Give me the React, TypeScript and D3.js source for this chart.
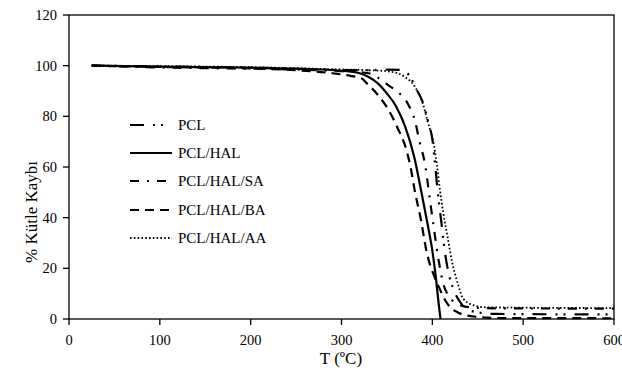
import React from "react";
import * as d3 from "d3";

// temperatures (°C) and mass values (%)
const pclT = [25, 100, 200, 250, 300, 330, 350, 365, 375, 382, 389, 396, 400, 403, 406, 410, 414, 418, 423, 430, 438, 450, 470, 600];
const pclV = [100, 99.7, 99.2, 98.8, 98.3, 98.2, 98.4, 98.3, 96, 91, 86, 77, 71, 61, 50, 38, 26, 18, 12, 7, 4, 2.6, 2, 1.8];

const halT = [25, 100, 200, 250, 300, 320, 330, 340, 350, 360, 370, 380, 388, 395, 400, 404, 407, 409];
const halV = [100, 99.6, 99.2, 98.8, 98, 97, 95.5, 93, 89, 84, 76, 64, 50, 37, 27, 16, 6, 0];

const saT = [25, 100, 200, 250, 300, 330, 345, 351, 364, 373, 381, 386, 392, 397, 402, 407, 412, 418, 425, 435, 450, 470, 600];
const saV = [100, 99.3, 98.8, 98.5, 97.8, 97, 94, 92.4, 89, 85, 78, 70, 61, 48, 35, 23, 14, 9, 6.5, 5, 4.4, 4.2, 4.1];

const baT = [25, 100, 200, 250, 290, 310, 322, 328, 342, 351, 361, 372, 376, 381, 387, 394, 402, 408, 414, 420, 428, 438, 450, 470, 600];
const baV = [100, 99.5, 98.9, 98.2, 97, 96, 95, 93, 87.6, 83, 76, 66, 60, 50, 40, 26, 17, 12, 7.5, 4.5, 2.6, 1.4, 0.8, 0.4, 0.3];

const aaT = [25, 100, 200, 250, 300, 330, 350, 362, 370, 381, 390, 395, 401, 405, 408, 412, 417, 422, 428, 434, 445, 460, 600];
const aaV = [100, 99.8, 99.4, 99, 98.5, 98.2, 97.8, 97, 95.5, 91.6, 84.5, 77.8, 70, 61, 52, 42, 32, 22, 14, 8, 5.5, 4.6, 4.3];

const seriesNames = ["PCL", "PCL/HAL", "PCL/HAL/SA", "PCL/HAL/BA", "PCL/HAL/AA"];
const xTicks = [0, 100, 200, 300, 400, 500, 600];
const yTicks = [0, 20, 40, 60, 80, 100, 120];

const dashes = ["14,9,2,6,2,9", "none", "9,8,2,8", "9,6", "1.6,2.2"];

function App() {
  const x = d3.scaleLinear().domain([0, 600]).range([69, 614]);
  const y = d3.scaleLinear().domain([0, 120]).range([319, 15]);
  const line = d3
    .line<[number, number]>()
    .x((d) => x(d[0]))
    .y((d) => y(d[1]))
    .curve(d3.curveMonotoneX);

  const data = [
    [pclT, pclV],
    [halT, halV],
    [saT, saV],
    [baT, baV],
    [aaT, aaV],
  ].map(([ts, vs]) => ts.map((t, i) => [t, vs[i]] as [number, number]));

  const font = "'Liberation Serif', 'Times New Roman', serif";

  return (
    <svg
      width={622}
      height={370}
      style={{ position: "absolute", left: 0, top: 0, background: "#fff" }}
      fontFamily={font}
    >
      {/* frame */}
      <rect x={69} y={15} width={545} height={304} fill="none" stroke="#000" strokeWidth={1.3} />

      {/* y axis */}
      {yTicks.map((t) => (
        <g key={"y" + t}>
          <line x1={63} x2={69} y1={y(t)} y2={y(t)} stroke="#000" strokeWidth={1.3} />
          <text x={57} y={y(t) + 5} textAnchor="end" fontSize={14.5}>
            {t}
          </text>
        </g>
      ))}
      {/* x axis */}
      {xTicks.map((t) => (
        <g key={"x" + t}>
          <line x1={x(t)} x2={x(t)} y1={319} y2={325} stroke="#000" strokeWidth={1.3} />
          <text x={x(t)} y={345} textAnchor="middle" fontSize={14.5}>
            {t}
          </text>
        </g>
      ))}

      <text x={341} y={364} textAnchor="middle" fontSize={17}>
        T (ºC)
      </text>
      <text transform="translate(37,212) rotate(-90)" textAnchor="middle" fontSize={17}>
        % Kütle Kaybı
      </text>

      {data.map((d, i) => (
        <path
          key={seriesNames[i]}
          d={line(d) || ""}
          fill="none"
          stroke="#000"
          strokeWidth={i === 4 ? 1.8 : 2.2}
          strokeDasharray={dashes[i]}
        />
      ))}

      {/* legend */}
      {seriesNames.map((n, i) => {
        const ly = [125, 153, 181, 210, 238][i];
        return (
          <g key={"l" + n}>
            <line
              x1={130}
              x2={172}
              y1={ly}
              y2={ly}
              stroke="#000"
              strokeWidth={i === 4 ? 1.8 : 2.2}
              strokeDasharray={dashes[i]}
            />
            <text x={178} y={ly + 5} fontSize={15}>
              {n}
            </text>
          </g>
        );
      })}
    </svg>
  );
}

export default App;
